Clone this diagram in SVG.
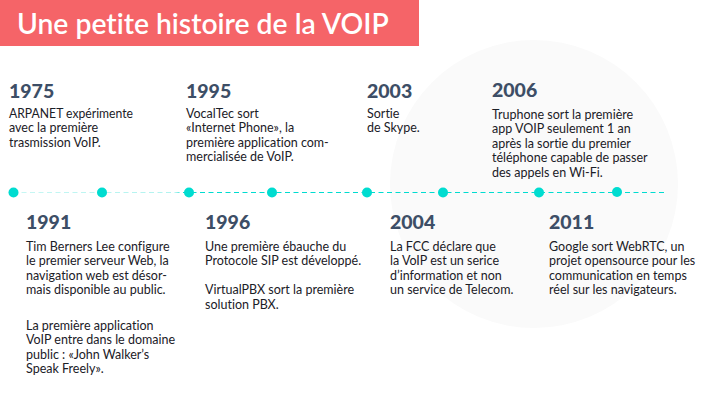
<svg xmlns="http://www.w3.org/2000/svg" width="709" height="410" viewBox="0 0 709 410">
<style>
text{font-family:"Lato","Liberation Sans",sans-serif;font-variant-ligatures:none}
.t{font-size:12.5px;fill:#1b2027}
.y{font-size:19.5px;font-weight:900;fill:#3d4e66}
.d{fill:#00dcd0}
</style>
<defs><linearGradient id="lg" gradientUnits="userSpaceOnUse" x1="13" y1="0" x2="665" y2="0"><stop offset="0" stop-color="#c8f7f4"/><stop offset="0.25" stop-color="#b0f3ef"/><stop offset="0.26" stop-color="#00dcd0"/><stop offset="1" stop-color="#00dcd0"/></linearGradient></defs>
<rect width="709" height="410" fill="#fff"/>
<circle cx="534" cy="184" r="144" fill="#fafafa"/>
<g id="title"><rect x="0" y="0" width="419" height="46" fill="#f56468"/><text x="17" y="34" font-size="28.3" font-weight="600" fill="#fff">Une petite histoire de la VOIP</text></g>
<g id="connectors"><path d="M13 192.5H665" fill="none" stroke="url(#lg)" stroke-width="1" stroke-dasharray="5 3.5"/></g>
<g id="dots"><circle class="d" cx="13.5" cy="192.5" r="5"/><circle class="d" cx="102" cy="192.5" r="5"/><circle class="d" cx="189" cy="192.5" r="5"/><circle class="d" cx="272" cy="192.5" r="5"/><circle class="d" cx="367" cy="192.5" r="5"/><circle class="d" cx="443" cy="192.5" r="5"/><circle class="d" cx="539" cy="192.5" r="5"/><circle class="d" cx="617" cy="192" r="5"/></g>
<g id="n1975"><text class="y" x="9" y="98">1975</text><text class="t" x="9" y="118" textLength="124" lengthAdjust="spacingAndGlyphs">ARPANET expérimente</text><text class="t" x="9" y="132">avec la première</text><text class="t" x="9" y="147">trasmission VoIP.</text></g>
<g id="n1995"><text class="y" x="186" y="98">1995</text><text class="t" x="186" y="118">VocalTec sort</text><text class="t" x="186" y="132">«Internet Phone», la</text><text class="t" x="186" y="147">première application com-</text><text class="t" x="186" y="161">mercialisée de VoIP.</text></g>
<g id="n2003"><text class="y" x="367" y="98">2003</text><text class="t" x="367" y="118">Sortie</text><text class="t" x="367" y="132">de Skype.</text></g>
<g id="n2006"><text class="y" x="492" y="97">2006</text><text class="t" x="492" y="119">Truphone sort la première</text><text class="t" x="492" y="133">app VOIP seulement 1 an</text><text class="t" x="492" y="148">après la sortie du premier</text><text class="t" x="492" y="162">téléphone capable de passer</text><text class="t" x="492" y="177">des appels en Wi-Fi.</text></g>
<g id="n1991"><text class="y" x="26" y="229">1991</text><text class="t" x="26" y="251">Tim Berners Lee configure</text><text class="t" x="26" y="265">le premier serveur Web, la</text><text class="t" x="26" y="280">navigation web est désor-</text><text class="t" x="26" y="294">mais disponible au public.</text><text class="t" x="26" y="330">La première application</text><text class="t" x="26" y="344">VoIP entre dans le domaine</text><text class="t" x="26" y="359">public : «John Walker’s</text><text class="t" x="26" y="373">Speak Freely».</text></g>
<g id="n1996"><text class="y" x="205" y="229">1996</text><text class="t" x="205" y="251">Une première ébauche du</text><text class="t" x="205" y="265">Protocole SIP est développé.</text><text class="t" x="205" y="294">VirtualPBX sort la première</text><text class="t" x="205" y="309">solution PBX.</text></g>
<g id="n2004"><text class="y" x="390" y="229">2004</text><text class="t" x="390" y="251">La FCC déclare que</text><text class="t" x="390" y="265">la VoIP est un serice</text><text class="t" x="390" y="280">d’information et non</text><text class="t" x="390" y="294">un service de Telecom.</text></g>
<g id="n2011"><text class="y" x="549" y="229">2011</text><text class="t" x="549" y="251">Google sort WebRTC, un</text><text class="t" x="549" y="265">projet opensource pour les</text><text class="t" x="549" y="280">communication en temps</text><text class="t" x="549" y="294">réel sur les navigateurs.</text></g>
</svg>
